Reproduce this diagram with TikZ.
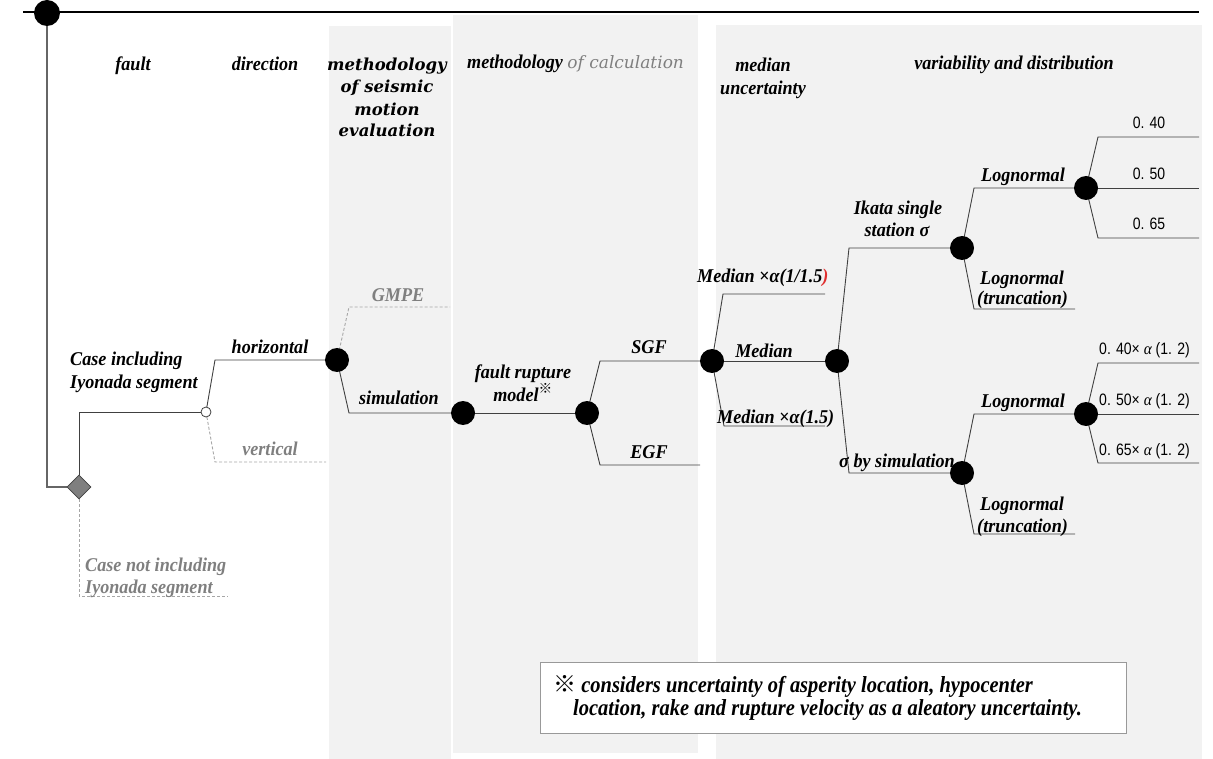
\documentclass[tikz,border=0pt]{standalone}
\usepackage{fontspec}
\setmainfont[FakeStretch=0.93]{Liberation Serif}
\newfontfamily\notefont[FakeStretch=0.89]{Liberation Serif}
\newfontfamily\hdfont{DejaVu Serif}
\newfontfamily\numfont[FakeStretch=0.85]{Liberation Sans}
\newfontfamily\cjk{Noto Sans CJK JP}
\usetikzlibrary{shapes.geometric}

\definecolor{panel}{HTML}{F2F2F2}
\definecolor{branchc}{HTML}{404040}
\definecolor{dimc}{HTML}{7F7F7F}
\definecolor{dashc}{HTML}{A6A6A6}
\definecolor{accent}{HTML}{E03030}

\newcommand\lblfont{\bfseries\itshape\fontsize{19.5}{22}\selectfont}
\newcommand\hdfontsz{\hdfont\bfseries\itshape\fontsize{16.5}{20}\selectfont}

\pgfdeclarelayer{bg}
\pgfdeclarelayer{wires}
\pgfsetlayers{bg,wires,main}

\tikzset{
  panelbox/.style={fill=panel, draw=none},
  dot/.style={circle, fill=black, draw=none, inner sep=0pt, minimum size=24pt},
  opendot/.style={circle, fill=white, draw=branchc, line width=0.8pt, inner sep=0pt, minimum size=10pt},
  choice/.style={diamond, fill=dimc, draw=branchc, line width=0.6pt, inner sep=0pt, minimum size=24pt},
  branch/.style={draw=branchc, line width=0.9pt},
  rootline/.style={draw=branchc!80!white, line width=1.4pt},
  alt/.style={draw=dashc, line width=0.9pt, dash pattern=on 3pt off 2pt},
  lab/.style={font=\lblfont, anchor=base, inner sep=0pt},
  altlab/.style={lab, text=dimc},
  head/.style={font=\hdfontsz, anchor=base, inner sep=0pt},
  num/.style={font=\numfont\fontsize{16.5}{18}\selectfont, anchor=base, inner sep=0pt},
  note/.style={font=\notefont\bfseries\itshape\fontsize{23}{23}\selectfont, anchor=base west, inner sep=0pt},
}

\begin{document}
\begin{tikzpicture}[x=1pt,y=-1pt]
\useasboundingbox (0,0) rectangle (1213,759);

% column panels
\begin{pgfonlayer}{bg}
  \fill[panelbox] (329,26) rectangle (451,759);
  \fill[panelbox] (453,15) rectangle (698,753);
  \fill[panelbox] (716,25) rectangle (1202,759);
\end{pgfonlayer}

% column headings
\node[lab] (hfault) at (133,71) {fault};
\node[lab] (hdir) at (265,71) {direction};
\node[head] (hmeth1) at (387,71) {methodology};
\node[head] (hmeth2) at (387,93) {of seismic};
\node[head] (hmeth3) at (387,116) {motion};
\node[head] (hmeth4) at (387,137) {evaluation};
\node[lab, anchor=base west] (hcalc) at (467,69)
  {methodology {\hdfont\mdseries\itshape\fontsize{17}{20}\selectfont\color{dimc} of calculation}};
\node[lab] (hmed1) at (763,72) {median};
\node[lab] (hmed2) at (763,95) {uncertainty};
\node[lab] (hvar) at (1014,70) {variability and distribution};

% chance and decision nodes
\node[circle, fill=black, inner sep=0pt, minimum size=26pt] (root) at (47,13) {};
\node[choice] (seg) at (79,487) {};
\node[opendot] (incl) at (206,412) {};
\node[dot] (dir) at (337,360) {};
\node[dot] (meth) at (463,413) {};
\node[dot] (rupt) at (587,413) {};
\node[dot] (sgf) at (712,361) {};
\node[dot] (med) at (837,361) {};
\node[dot] (ikata) at (962,248) {};
\node[dot] (simsig) at (962,473) {};
\node[dot] (logA) at (1086,188) {};
\node[dot] (logB) at (1086,414) {};

% bends and free ends of the branches
\coordinate (rootbend) at (47,487);
\coordinate (segup) at (79,412);
\coordinate (segdn) at (79,596);
\coordinate (segend) at (228,596);
\coordinate (horiz) at (215,360);
\coordinate (vert) at (215,462);
\coordinate (vertend) at (326,462);
\coordinate (gmpe) at (349,307);
\coordinate (gmpeend) at (450,307);
\coordinate (simul) at (349,413);
\coordinate (sgfb) at (600,361);
\coordinate (egfb) at (600,465);
\coordinate (egfend) at (700,465);
\coordinate (lowb) at (723,294);
\coordinate (lowend) at (825,294);
\coordinate (highb) at (724,426);
\coordinate (highend) at (825,426);
\coordinate (ikb) at (849,248);
\coordinate (simb) at (849,473);
\coordinate (lnA) at (974,188);
\coordinate (trA) at (974,309);
\coordinate (trAend) at (1075,309);
\coordinate (a40) at (1098,137);
\coordinate (a40end) at (1199,137);
\coordinate (a50end) at (1199,188);
\coordinate (a65) at (1098,238);
\coordinate (a65end) at (1199,238);
\coordinate (lnB) at (974,414);
\coordinate (trB) at (974,534);
\coordinate (trBend) at (1075,534);
\coordinate (b40) at (1098,363);
\coordinate (b40end) at (1199,363);
\coordinate (b50end) at (1199,414);
\coordinate (b65) at (1098,463);
\coordinate (b65end) at (1199,463);
\coordinate (topL) at (23,12);
\coordinate (topR) at (1199,12);

\begin{pgfonlayer}{wires}
  \draw[black, line width=1.8pt] (topL) -- (topR);
  \draw[rootline] (root.center) -- (rootbend) -- (seg.west);
  \draw[branch] (seg.north) -- (segup) -- (incl.west);
  \draw[alt] (seg.south) -- (segdn) -- (segend);
  \draw[branch] (incl.center) -- (horiz) -- (dir.center);
  \draw[alt] (incl.center) -- (vert) -- (vertend);
  \draw[alt] (dir.center) -- (gmpe) -- (gmpeend);
  \draw[branch] (dir.center) -- (simul) -- (meth.center);
  \draw[branch] (meth.center) -- (rupt.center);
  \draw[branch] (rupt.center) -- (sgfb) -- (sgf.center);
  \draw[branch] (rupt.center) -- (egfb) -- (egfend);
  \draw[branch] (sgf.center) -- (lowb) -- (lowend);
  \draw[branch] (sgf.center) -- (med.center);
  \draw[branch] (sgf.center) -- (highb) -- (highend);
  \draw[branch] (med.center) -- (ikb) -- (ikata.center);
  \draw[branch] (med.center) -- (simb) -- (simsig.center);
  \draw[branch] (ikata.center) -- (lnA) -- (logA.center);
  \draw[branch] (ikata.center) -- (trA) -- (trAend);
  \draw[branch] (logA.center) -- (a40) -- (a40end);
  \draw[branch] (logA.center) -- (a50end);
  \draw[branch] (logA.center) -- (a65) -- (a65end);
  \draw[branch] (simsig.center) -- (lnB) -- (logB.center);
  \draw[branch] (simsig.center) -- (trB) -- (trBend);
  \draw[branch] (logB.center) -- (b40) -- (b40end);
  \draw[branch] (logB.center) -- (b50end);
  \draw[branch] (logB.center) -- (b65) -- (b65end);
\end{pgfonlayer}

% branch labels
\node[lab, anchor=base west] (lincl1) at (70,366) {Case including};
\node[lab, anchor=base west] (lincl2) at (70,388) {Iyonada segment};
\node[altlab, anchor=base west] (lexcl1) at (85,571) {Case not including};
\node[altlab, anchor=base west] (lexcl2) at (85,593) {Iyonada segment};
\node[lab] (lhoriz) at (270,353) {horizontal};
\node[altlab] (lvert) at (270,455) {vertical};
\node[altlab] (lgmpe) at (398,302) {GMPE};
\node[lab] (lsim) at (399,404) {simulation};
\node[lab] (lrup1) at (523,378) {fault rupture};
\node[lab] (lrup2) at (523,401) {model\textsuperscript{\cjk\upshape ※}};
\node[lab] (lsgf) at (649,353) {SGF};
\node[lab] (legf) at (649,458) {EGF};
\node[lab, anchor=base west] (llow) at (697,283) {Median ×α(1/1.5\textcolor{accent}{)}};
\node[lab] (lmed) at (764,357) {Median};
\node[lab, anchor=base west] (lhigh) at (717,423) {Median ×α(1.5)};
\node[lab] (lik1) at (898,215) {Ikata single};
\node[lab] (lik2) at (897,237) {station σ};
\node[lab, anchor=base west] (lsimsig) at (839,467) {σ by simulation};
\node[lab] (llnA) at (1023,182) {Lognormal};
\node[lab, anchor=base west] (ltrA1) at (980,285) {Lognormal};
\node[lab, anchor=base west] (ltrA2) at (977,305) {(truncation)};
\node[lab] (llnB) at (1023,407) {Lognormal};
\node[lab, anchor=base west] (ltrB1) at (980,510) {Lognormal};
\node[lab, anchor=base west] (ltrB2) at (977,532) {(truncation)};

% sigma values
\node[num] (v40) at (1149,129) {0. 40};
\node[num] (v50) at (1149,180) {0. 50};
\node[num] (v65) at (1149,230) {0. 65};
\node[num, anchor=base west] (w40) at (1099,355) {0. 40× {\rmfamily\itshape α} (1. 2)};
\node[num, anchor=base west] (w50) at (1099,405) {0. 50× {\rmfamily\itshape α} (1. 2)};
\node[num, anchor=base west] (w65) at (1099,455) {0. 65× {\rmfamily\itshape α} (1. 2)};

% footnote
\node[draw=dimc!80!white, fill=white, line width=0.8pt, minimum width=586pt, minimum height=71pt,
      inner sep=0pt, anchor=north west] (notebox) at (540,662) {};
\node[note] (note1) at (553,692) {{\cjk\mdseries\upshape ※} considers uncertainty of asperity location, hypocenter};
\node[note] (note2) at (573,715) {location, rake and rupture velocity as a aleatory uncertainty.};
\end{tikzpicture}
\end{document}
